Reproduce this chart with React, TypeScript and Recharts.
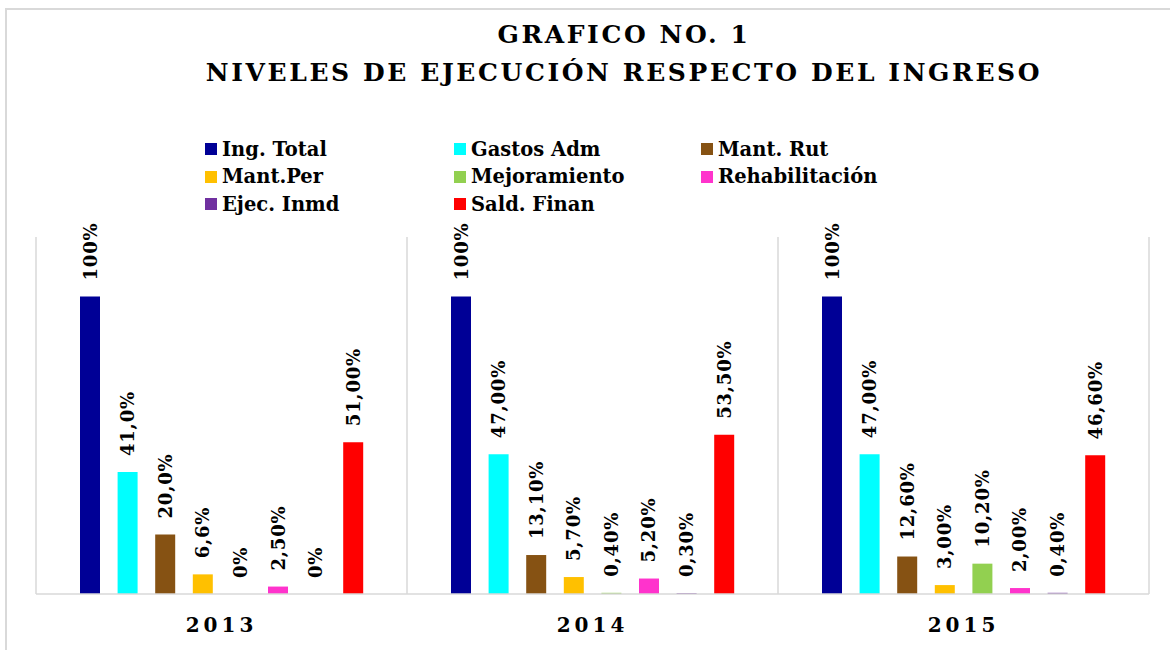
import React from 'react';
import { BarChart, Bar, XAxis, YAxis, CartesianGrid, LabelList } from 'recharts';

const categories = ['2013', '2014', '2015'];

const ingTotal = [100, 100, 100];
const gastosAdm = [41, 47, 47];
const mantRut = [20, 13.1, 12.6];
const mantPer = [6.6, 5.7, 3];
const mejoramiento = [0, 0.4, 10.2];
const rehabilitacion = [2.5, 5.2, 2];
const ejecInmd = [0, 0.3, 0.4];
const saldFinan = [51, 53.5, 46.6];

// labels as printed on the chart (formats differ per bar)
const ingTotalLbl = ['100%', '100%', '100%'];
const gastosAdmLbl = ['41,0%', '47,00%', '47,00%'];
const mantRutLbl = ['20,0%', '13,10%', '12,60%'];
const mantPerLbl = ['6,6%', '5,70%', '3,00%'];
const mejoramientoLbl = ['0%', '0,40%', '10,20%'];
const rehabilitacionLbl = ['2,50%', '5,20%', '2,00%'];
const ejecInmdLbl = ['0%', '0,30%', '0,40%'];
const saldFinanLbl = ['51,00%', '53,50%', '46,60%'];

const series = [
  { key: 'ingTotal', name: 'Ing. Total', color: '#000096', values: ingTotal, labels: ingTotalLbl },
  { key: 'gastosAdm', name: 'Gastos Adm', color: '#00FFFF', values: gastosAdm, labels: gastosAdmLbl },
  { key: 'mantRut', name: 'Mant. Rut', color: '#865213', values: mantRut, labels: mantRutLbl },
  { key: 'mantPer', name: 'Mant.Per', color: '#FFC000', values: mantPer, labels: mantPerLbl },
  { key: 'mejoramiento', name: 'Mejoramiento', color: '#92D050', values: mejoramiento, labels: mejoramientoLbl },
  { key: 'rehabilitacion', name: 'Rehabilitación', color: '#FF33CC', values: rehabilitacion, labels: rehabilitacionLbl },
  { key: 'ejecInmd', name: 'Ejec. Inmd', color: '#7030A0', values: ejecInmd, labels: ejecInmdLbl },
  { key: 'saldFinan', name: 'Sald. Finan', color: '#FF0000', values: saldFinan, labels: saldFinanLbl },
];

const data = categories.map((year, i) => {
  const row: any = { year };
  series.forEach(s => {
    row[s.key] = s.values[i];
    row[s.key + 'Lbl'] = s.labels[i];
  });
  return row;
});

const FONT = '"DejaVu Serif", serif';

const VerticalLabel = (props: any) => {
  const { x, y, width, height, value } = props;
  const cx = x + width / 2;
  const top = Math.min(y, y + height) - 16;
  return (
    <text
      x={cx}
      y={top}
      transform={`rotate(-90 ${cx} ${top})`}
      textAnchor="start"
      dominantBaseline="central"
      fontFamily={FONT}
      fontWeight="bold"
      fontSize={18}
      letterSpacing={0.8}
      fill="#000"
    >
      {value}
    </text>
  );
};

const YearTick = (props: any) => {
  const { x, y, payload } = props;
  return (
    <text x={x} y={y + 38} textAnchor="middle" fontFamily={FONT} fontWeight="bold" fontSize={20} letterSpacing={4} fill="#000">
      {payload.value}
    </text>
  );
};

// zero-valued bars still need a rectangle so their "0%" label gets drawn
const keepZero = (value: any) => (value === 0 ? 0.01 : 0);

export default function App() {
  return (
    <div style={{ position: 'absolute', left: 0, top: 0, width: 1170, height: 650, background: '#fff', overflow: 'hidden' }}>
      <div style={{ position: 'absolute', left: 5, top: 8, width: 1200, height: 700, borderLeft: '2px solid #d9d9d9', borderTop: '2px solid #d9d9d9' }} />
      <div style={{ position: 'absolute', left: 0, top: 16, width: 1248, textAlign: 'center', fontFamily: FONT, fontWeight: 'bold', fontSize: 25, letterSpacing: 2.6, lineHeight: '38px', color: '#000' }}>
        <div>GRAFICO NO. 1</div>
        <div>NIVELES DE EJECUCIÓN RESPECTO DEL INGRESO</div>
      </div>
      <div style={{ position: 'absolute', top: 138, left: 205, display: 'grid', gridTemplateColumns: '249px 247px 220px', rowGap: 5.5, fontFamily: FONT, fontWeight: 'bold', fontSize: 19.5, color: '#000' }}>
        {series.map(s => (
          <div key={s.key} style={{ display: 'flex', alignItems: 'center', height: 22 }}>
            <span style={{ width: 12, height: 12, background: s.color, marginRight: 5, display: 'inline-block' }} />
            <span>{s.name}</span>
          </div>
        ))}
      </div>
      <BarChart
        width={1170}
        height={650}
        data={data}
        margin={{ top: 237, right: 21, left: 36, bottom: 16 }}
        barSize={20}
        barGap={17.6}
        style={{ position: 'absolute', left: 0, top: 0 }}
      >
        <CartesianGrid
          horizontal={false}
          stroke="#d9d9d9"
          strokeWidth={1.5}
          verticalCoordinatesGenerator={({ offset }: any) =>
            [0, 1, 2, 3].map(i => offset.left + (i * offset.width) / categories.length)
          }
        />
        <XAxis
          dataKey="year"
          height={40}
          axisLine={{ stroke: '#d9d9d9', strokeWidth: 1.5 }}
          tickLine={false}
          tickSize={0}
          tickMargin={0}
          tick={<YearTick />}
        />
        <YAxis hide domain={[0, 120]} />
        {series.map(s => (
          <Bar key={s.key} dataKey={s.key} name={s.name} fill={s.color} minPointSize={keepZero} isAnimationActive={false}>
            <LabelList dataKey={s.key + 'Lbl'} content={<VerticalLabel />} />
          </Bar>
        ))}
      </BarChart>
    </div>
  );
}
